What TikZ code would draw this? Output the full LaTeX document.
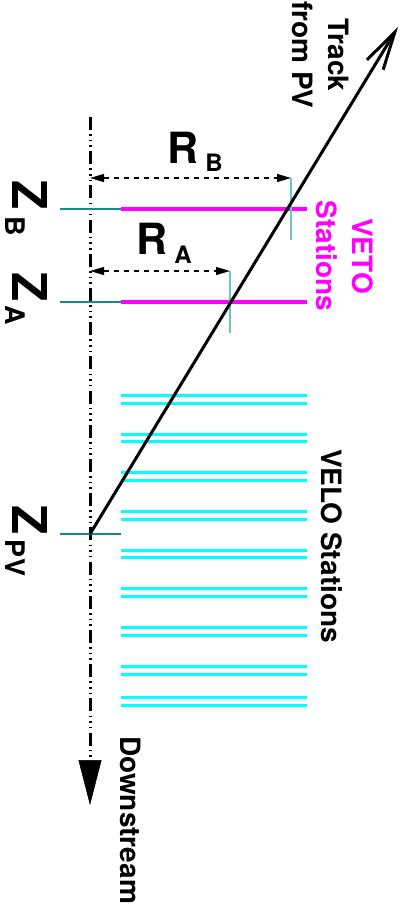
\documentclass[tikz,border=0pt]{standalone}
\usepackage{fontspec}
\setmainfont{TeX Gyre Heros}
\usetikzlibrary{arrows.meta}
\definecolor{veto}{RGB}{255,0,255}
\definecolor{velo}{RGB}{0,255,255}
\definecolor{tickh}{RGB}{20,140,140}
\definecolor{tickv}{RGB}{110,195,195}
\begin{document}
\begin{tikzpicture}[x=1pt,y=-1pt,
  lbl/.style={font=\bfseries\fontsize{28}{36}\selectfont, inner sep=0pt, rotate=-90, align=center},
  bigz/.style={font=\bfseries\fontsize{48}{48}\selectfont, inner sep=0pt, rotate=-90},
  subz/.style={font=\bfseries\fontsize{27}{27}\selectfont, inner sep=0pt, rotate=-90},
  bigr/.style={font=\bfseries\fontsize{43}{43}\selectfont, inner sep=0pt},
  subr/.style={font=\bfseries\fontsize{24}{24}\selectfont, inner sep=0pt},
  axisline/.style={line width=3pt, dash pattern=on 13pt off 4.2pt on 1.6pt off 4pt on 1.6pt off 4pt on 1.6pt off 4.2pt},
  vetoline/.style={veto, line width=3.2pt},
  veloline/.style={velo, line width=3pt},
  zticks/.style={tickh, line width=1.1pt},
  rticks/.style={tickv, line width=1.5pt},
  dim/.style={line width=1.4pt, dash pattern=on 5.5pt off 4.5pt,
    {Triangle[length=14pt,width=8pt]}-{Triangle[length=14pt,width=8pt]}},
  ]
\useasboundingbox (0,0) rectangle (401,909);
% axis
\coordinate (atop) at (90,117);
\coordinate (abot) at (90,805);
\draw[axisline, -{Triangle[length=45pt,width=23pt,line width=0.5pt]}] (atop) -- (abot);
% z ticks
\coordinate (zbl) at (60,209); \coordinate (zbr) at (121,209);
\coordinate (zal) at (60,302); \coordinate (zar) at (121,302);
\coordinate (zpl) at (60,534); \coordinate (zpr) at (121,534);
\draw[zticks] (zbl) -- (zbr);
\draw[zticks] (zal) -- (zar);
\draw[zticks] (zpl) -- (zpr);
% veto stations
\coordinate (vbe) at (307,209); \coordinate (vae) at (307,302);
\draw[vetoline] (zbr) -- (vbe);
\draw[vetoline] (zar) -- (vae);
% velo stations
\foreach \yy in {395,403,434,441.7,472.7,480.3,511.3,519,550,557.7,588.7,596.3,627.7,635.3,666.3,674,697.3,705}
  \draw[veloline] (121,\yy) -- (307,\yy);
% R ticks
\coordinate (rbt) at (291,178); \coordinate (rbb) at (291,240);
\coordinate (rat) at (230,271); \coordinate (rab) at (230,333);
\draw[rticks] (rbt) -- (rbb);
\draw[rticks] (rat) -- (rab);
% dimension arrows
\coordinate (rbl) at (90,178);
\coordinate (ral) at (90,271);
\draw[dim] (rbl) -- (rbt);
\draw[dim] (ral) -- (rat);
% track
\coordinate (pv) at (90,534);
\coordinate (trk) at (398,27);
\draw[line width=3pt, -{Straight Barb[length=38pt,width=19pt]}] (pv) -- (trk);
% labels
\node[bigz] (zb) at (30,195) {Z};
\node[subz] (zbs) at (15,226) {B};
\node[bigz] (za) at (30,287) {Z};
\node[subz] (zas) at (15,315) {A};
\node[bigz] (zpv) at (30,520) {Z};
\node[subz] (zpvs) at (15,558) {PV};
\node[bigr] (rb) at (183,148) {R};
\node[subr] (rbs) at (214,163) {B};
\node[bigr] (ra) at (152,239) {R};
\node[subr] (ras) at (183,255) {A};
\node[lbl] (track) at (321,55) {Track\\from PV};
\node[lbl, text=veto] (vetolbl) at (345,256) {VETO\\Stations};
\node[lbl] (velolbl) at (332,546) {VELO Stations};
\node[lbl] (down) at (131,820) {Downstream};
\end{tikzpicture}
\end{document}
